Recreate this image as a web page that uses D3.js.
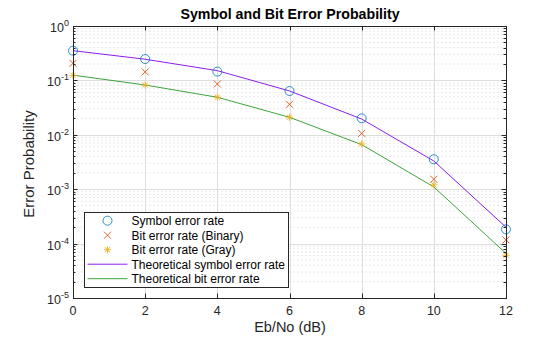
<!DOCTYPE html>
<html><head><meta charset="utf-8">
<script src="https://cdn.jsdelivr.net/npm/d3@7"></script>
<style>body{margin:0;background:#fff}svg{display:block}text{font-family:"Liberation Sans",Arial,sans-serif}</style>
</head><body>
<script>
const ebno = [0, 2, 4, 6, 8, 10, 12];
const serSim = [0.352, 0.247, 0.145, 0.0638, 0.0201, 0.00355, 0.000183];
const berBinary = [0.206, 0.143, 0.0859, 0.0363, 0.0106, 0.00152, 0.000117];
const berGray = [0.124, 0.0823, 0.049, 0.021, 0.00677, 0.0012, 0.000061];
const serTheory = [0.352, 0.245, 0.151, 0.064, 0.0195, 0.0033, 0.0002];
const berTheory = [0.125, 0.0823, 0.049, 0.021, 0.0066, 0.0011, 0.000066];
const xTicks = [0, 2, 4, 6, 8, 10, 12];
const yExps = [0, -1, -2, -3, -4, -5];
const legendLabels = ["Symbol error rate", "Bit error rate (Binary)", "Bit error rate (Gray)", "Theoretical symbol error rate", "Theoretical bit error rate"];

const W = 560, H = 337;
const L = 73, R = 506, T = 26, B = 298;
const svg = d3.select("body").append("svg").attr("width", W).attr("height", H);
const x = d3.scaleLinear().domain([0, 12]).range([L, R]);
const y = d3.scaleLog().domain([1e-5, 1]).range([B, T]);
const axisCol = "#262626";
const cBlue = "#0072BD", cOrange = "#D95319", cYellow = "#EDB120", cPurple = "#8C1EEB", cGreen = "#3DA53A";

// grid
const g = svg.append("g");
const minor = [];
for (let e = -5; e < 0; e++) for (let k = 2; k <= 9; k++) minor.push(k * Math.pow(10, e));
g.selectAll(".mn").data(minor).enter().append("line")
  .attr("x1", L).attr("x2", R).attr("y1", d => y(d)).attr("y2", d => y(d))
  .attr("stroke", "#dadada").attr("stroke-width", 0.6).attr("stroke-dasharray", "2,2");
g.selectAll(".mj").data(yExps.map(e => Math.pow(10, e))).enter().append("line")
  .attr("x1", L).attr("x2", R).attr("y1", d => Math.round(y(d)) + 0.5).attr("y2", d => Math.round(y(d)) + 0.5)
  .attr("stroke", "#dedede").attr("stroke-width", 1);
g.selectAll(".vx").data(xTicks).enter().append("line")
  .attr("y1", T).attr("y2", B).attr("x1", d => Math.round(x(d)) + 0.5).attr("x2", d => Math.round(x(d)) + 0.5)
  .attr("stroke", "#dedede").attr("stroke-width", 1);

// lines
const line = d3.line().x((d, i) => x(ebno[i])).y(d => y(d));
svg.append("path").datum(serTheory).attr("d", line).attr("fill", "none").attr("stroke", cPurple).attr("stroke-width", 1);
svg.append("path").datum(berTheory).attr("d", line).attr("fill", "none").attr("stroke", cGreen).attr("stroke-width", 1);

// markers
function circ(sel, cx, cy, col) {
  sel.append("circle").attr("cx", cx).attr("cy", cy).attr("r", 4.5).attr("fill", "none").attr("stroke", col).attr("stroke-width", 0.8);
}
function cross(sel, cx, cy, col) {
  const s = 3.5;
  sel.append("path").attr("d", `M${cx - s},${cy - s}L${cx + s},${cy + s}M${cx - s},${cy + s}L${cx + s},${cy - s}`)
    .attr("stroke", col).attr("stroke-width", 0.9).attr("fill", "none");
}
function star(sel, cx, cy, col) {
  const s = 3.6, d = 2.6;
  sel.append("path").attr("d", `M${cx - s},${cy}L${cx + s},${cy}M${cx},${cy - s}L${cx},${cy + s}M${cx - d},${cy - d}L${cx + d},${cy + d}M${cx - d},${cy + d}L${cx + d},${cy - d}`)
    .attr("stroke", col).attr("stroke-width", 0.9).attr("fill", "none");
}
const mk = svg.append("g");
serSim.forEach((v, i) => circ(mk, x(ebno[i]), y(v), cBlue));
berBinary.forEach((v, i) => cross(mk, x(ebno[i]), y(v), cOrange));
berGray.forEach((v, i) => star(mk, x(ebno[i]), y(v), cYellow));

// axes box
const ax = svg.append("g");
ax.append("rect").attr("x", L + 0.5).attr("y", T + 0.5).attr("width", R - L).attr("height", B - T)
  .attr("fill", "none").attr("stroke", axisCol).attr("stroke-width", 1);
xTicks.forEach(t => {
  const px = Math.round(x(t)) + 0.5;
  ax.append("line").attr("x1", px).attr("x2", px).attr("y1", B).attr("y2", B - 4.5).attr("stroke", axisCol);
  ax.append("line").attr("x1", px).attr("x2", px).attr("y1", T).attr("y2", T + 4.5).attr("stroke", axisCol);
  ax.append("text").attr("x", x(t)).attr("y", B + 17).attr("text-anchor", "middle")
    .attr("font-size", 12.5).attr("fill", axisCol).text(t);
});
yExps.forEach(e => {
  const py = Math.round(y(Math.pow(10, e))) + 0.5;
  ax.append("line").attr("x1", L).attr("x2", L + 4.5).attr("y1", py).attr("y2", py).attr("stroke", axisCol);
  ax.append("line").attr("x1", R).attr("x2", R - 4.5).attr("y1", py).attr("y2", py).attr("stroke", axisCol);
  const tx = ax.append("text").attr("x", 69).attr("y", py + 5).attr("text-anchor", "end")
    .attr("font-size", 12.5).attr("fill", axisCol);
  tx.append("tspan").text("10");
  tx.append("tspan").attr("dy", -6).attr("font-size", 9).text(e === 0 ? "0" : "-" + (-e));
});
minor.forEach(v => {
  const py = Math.round(y(v)) + 0.5;
  ax.append("line").attr("x1", L).attr("x2", L + 2.5).attr("y1", py).attr("y2", py).attr("stroke", axisCol);
  ax.append("line").attr("x1", R).attr("x2", R - 2.5).attr("y1", py).attr("y2", py).attr("stroke", axisCol);
});

// labels
svg.append("text").attr("x", 290).attr("y", 19).attr("text-anchor", "middle").attr("font-size", 14.2)
  .attr("font-weight", "bold").attr("fill", "#000").text("Symbol and Bit Error Probability");
svg.append("text").attr("x", 290).attr("y", 332).attr("text-anchor", "middle").attr("font-size", 14.5)
  .attr("fill", axisCol).text("Eb/No (dB)");
svg.append("text").attr("transform", `translate(34,${(T + B) / 2 + 2}) rotate(-90)`).attr("text-anchor", "middle")
  .attr("font-size", 15).attr("fill", axisCol).text("Error Probability");

// legend
const lg = svg.append("g");
lg.append("rect").attr("x", 84.5).attr("y", 212.5).attr("width", 204).attr("height", 75)
  .attr("fill", "#fff").attr("stroke", axisCol).attr("stroke-width", 1);
const rowY = i => 220.7 + i * 14.5;
legendLabels.forEach((lab, i) => {
  lg.append("text").attr("x", 131.5).attr("y", rowY(i) + 4.5).attr("font-size", 12).attr("fill", "#000").text(lab);
});
circ(lg, 107.5, rowY(0), cBlue);
cross(lg, 107.5, rowY(1), cOrange);
star(lg, 107.5, rowY(2), cYellow);
lg.append("line").attr("x1", 87.5).attr("x2", 127.5).attr("y1", rowY(3)).attr("y2", rowY(3)).attr("stroke", cPurple);
lg.append("line").attr("x1", 87.5).attr("x2", 127.5).attr("y1", rowY(4)).attr("y2", rowY(4)).attr("stroke", cGreen);
</script>
</body></html>
